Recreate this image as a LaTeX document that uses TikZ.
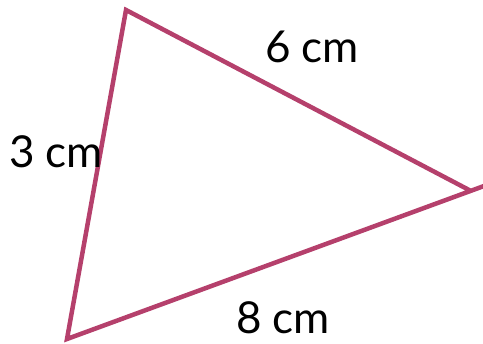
\documentclass[tikz,border=0pt]{standalone}
\usepackage{fontspec}
\setmainfont{Lato}
\definecolor{edge}{HTML}{B5406C}
\begin{document}
\begin{tikzpicture}[x=1pt,y=-1pt,
  side/.style={draw=edge,line width=4.5pt,line cap=butt,line join=miter},
  lbl/.style={font=\fontsize{44}{46}\selectfont,inner sep=0pt,anchor=center}]
\useasboundingbox (0,0) rectangle (483,344);
\coordinate (A) at (126,10);
\coordinate (B) at (471,191);
\coordinate (C) at (67,339);
\coordinate (D) at (484,186);
\draw[side] (B) -- (A) -- (C) -- (D);
\node[lbl] (l6) at (312,47) {6 cm};
\node[lbl] (l3) at (56,152) {3 cm};
\node[lbl] (l8) at (283,318) {8 cm};
\end{tikzpicture}
\end{document}
